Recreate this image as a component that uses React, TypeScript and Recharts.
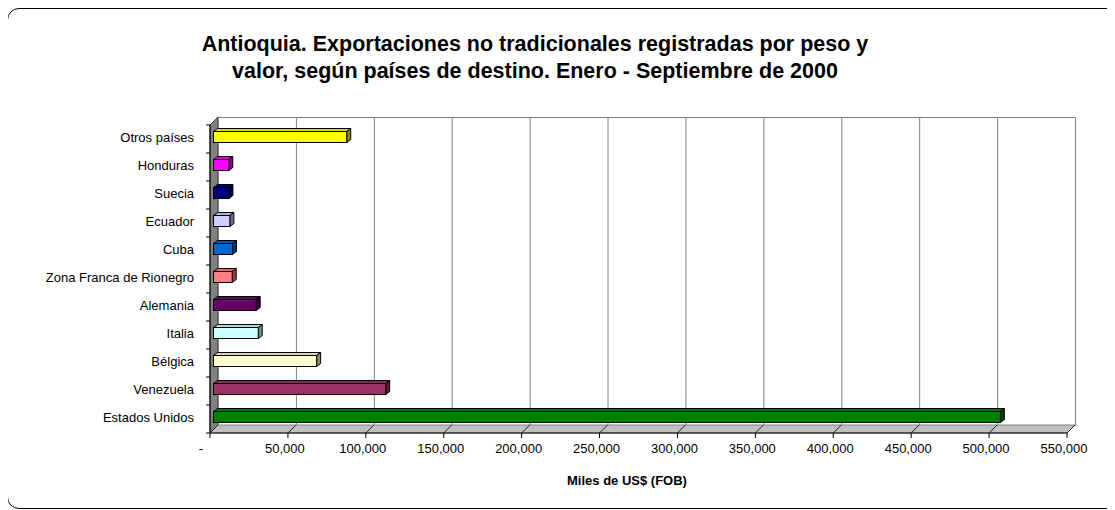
import { Bar, BarChart, CartesianGrid, XAxis, YAxis } from "recharts";

const paises = [
  "Otros países",
  "Honduras",
  "Suecia",
  "Ecuador",
  "Cuba",
  "Zona Franca de Rionegro",
  "Alemania",
  "Italia",
  "Bélgica",
  "Venezuela",
  "Estados Unidos",
];
const valores = [85500, 9800, 9900, 10500, 12200, 12000, 27400, 28700, 66200, 110500, 505000];
const colores = [
  "#FFFF00",
  "#FF00FF",
  "#000080",
  "#CCCCFF",
  "#0066CC",
  "#FF8080",
  "#660066",
  "#CCFFFF",
  "#FFFFCC",
  "#993366",
  "#008000",
];
const xTicks = [0, 50000, 100000, 150000, 200000, 250000, 300000, 350000, 400000, 450000, 500000, 550000];

const data = paises.map((name, i) => ({ name, value: valores[i], color: colores[i] }));

const FONT = "Arial, 'Liberation Sans', sans-serif";
const W = 1107;
const H = 500;
const L = 202;
const T = 117;
const PW = 857;
const PH = 308;
const R = L + PW;
const B = T + PH;
const D = 8;
const BAND = PH / paises.length;

function shade(hex: string, f: number) {
  const n = parseInt(hex.slice(1), 16);
  const r = Math.round(((n >> 16) & 255) * f);
  const g = Math.round(((n >> 8) & 255) * f);
  const b = Math.round((n & 255) * f);
  return `rgb(${r},${g},${b})`;
}

const Bar3D = (props: any) => {
  const { x, y, width, height, payload } = props;
  const fill = payload?.color ?? props.fill;
  const fx = x + 3.5;
  const fy = Math.round(y - 3) + 0.5;
  const w = width;
  const h = height;
  const dx = 4;
  const dy = 3;
  return (
    <g>
      <polygon
        points={`${fx},${fy} ${fx + dx},${fy - dy} ${fx + w + dx},${fy - dy} ${fx + w},${fy}`}
        fill={shade(fill, 0.85)}
        stroke="#000"
      />
      <polygon
        points={`${fx + w},${fy} ${fx + w + dx},${fy - dy} ${fx + w + dx},${fy + h - dy} ${fx + w},${fy + h}`}
        fill={shade(fill, 0.55)}
        stroke="#000"
      />
      <rect x={fx} y={fy} width={w} height={h} fill={fill} stroke="#000" />
    </g>
  );
};

const XTick = ({ x, y, payload }: any) => {
  const v = payload.value;
  return (
    <g>
      <line x1={x} y1={y} x2={x} y2={y + 5} stroke="#000" />
      <line x1={x} y1={y} x2={x + D} y2={y - D} stroke="#222" />
      <text x={v === 0 ? x - 9 : x - 3} y={y + 20} textAnchor="middle" fontSize={13} fontFamily={FONT} fill="#000">
        {v === 0 ? "-" : v.toLocaleString("en-US")}
      </text>
    </g>
  );
};

const YTick = ({ x, y, payload, index }: any) => (
  <g>
    {index === 0 && <line x1={x - 4} y1={y - BAND / 2} x2={x} y2={y - BAND / 2} stroke="#000" />}
    <line x1={x - 4} y1={y + BAND / 2} x2={x} y2={y + BAND / 2} stroke="#000" />
    <text x={x - 16} y={y + 3} textAnchor="end" fontSize={13} fontFamily={FONT} fill="#000">
      {payload.value}
    </text>
  </g>
);

export default function App() {
  return (
    <div style={{ position: "relative", width: W, height: 502, overflow: "hidden", fontFamily: FONT }}>
      <style>{"html,body{overflow:hidden}"}</style>
      <div
        style={{
          position: "absolute",
          left: -1,
          top: 0,
          width: 1130,
          height: 499,
          border: "1px solid #000",
          borderRadius: 12,
        }}
      />
      <svg width={W} height={H} style={{ position: "absolute", left: 0, top: 0 }}>
        <text x={527} y={43} textAnchor="middle" fontSize={21.5} fontWeight="bold" fontFamily={FONT}>
          Antioquia. Exportaciones no tradicionales registradas por peso y
        </text>
        <text x={527} y={70} textAnchor="middle" fontSize={21.5} fontWeight="bold" fontFamily={FONT}>
          valor, según países de destino. Enero - Septiembre de 2000
        </text>
        <rect x={L + D + 0.5} y={T - D + 0.5} width={PW} height={PH} fill="#fff" stroke="#808080" />
        <polygon
          points={`${L},${T} ${L + D},${T - D} ${L + D},${B - D} ${L},${B}`}
          fill="#808080"
          stroke="#404040"
        />
        <polygon
          points={`${L},${B} ${L + D},${B - D} ${R + D},${B - D} ${R},${B}`}
          fill="#C0C0C0"
          stroke="#808080"
        />
        <text x={619} y={477} textAnchor="middle" fontSize={13} fontWeight="bold" fontFamily={FONT}>
          Miles de US$ (FOB)
        </text>
      </svg>
      <div style={{ position: "absolute", left: 0, top: 0 }}>
        <BarChart
          width={W}
          height={H}
          data={data}
          layout="vertical"
          margin={{ top: T, right: W - R, bottom: 45, left: 2 }}
          barSize={11}
        >
          <CartesianGrid
            horizontal={false}
            vertical={(p: any) => (
              <line
                key={`g-${p.x1}`}
                x1={p.x1 + D + 0.5}
                x2={p.x2 + D + 0.5}
                y1={p.y1 - D}
                y2={p.y2 - D}
                stroke="#808080"
              />
            )}
          />
          <XAxis
            type="number"
            domain={[0, 550000]}
            ticks={xTicks}
            interval={0}
            height={30}
            tickSize={0}
            tickMargin={0}
            tickLine={false}
            axisLine={{ stroke: "#000" }}
            tick={<XTick />}
          />
          <YAxis
            type="category"
            dataKey="name"
            width={200}
            interval={0}
            tickSize={0}
            tickMargin={0}
            tickLine={false}
            axisLine={{ stroke: "#000" }}
            tick={<YTick />}
          />
          <Bar dataKey="value" isAnimationActive={false} shape={<Bar3D />} />
        </BarChart>
      </div>
    </div>
  );
}
